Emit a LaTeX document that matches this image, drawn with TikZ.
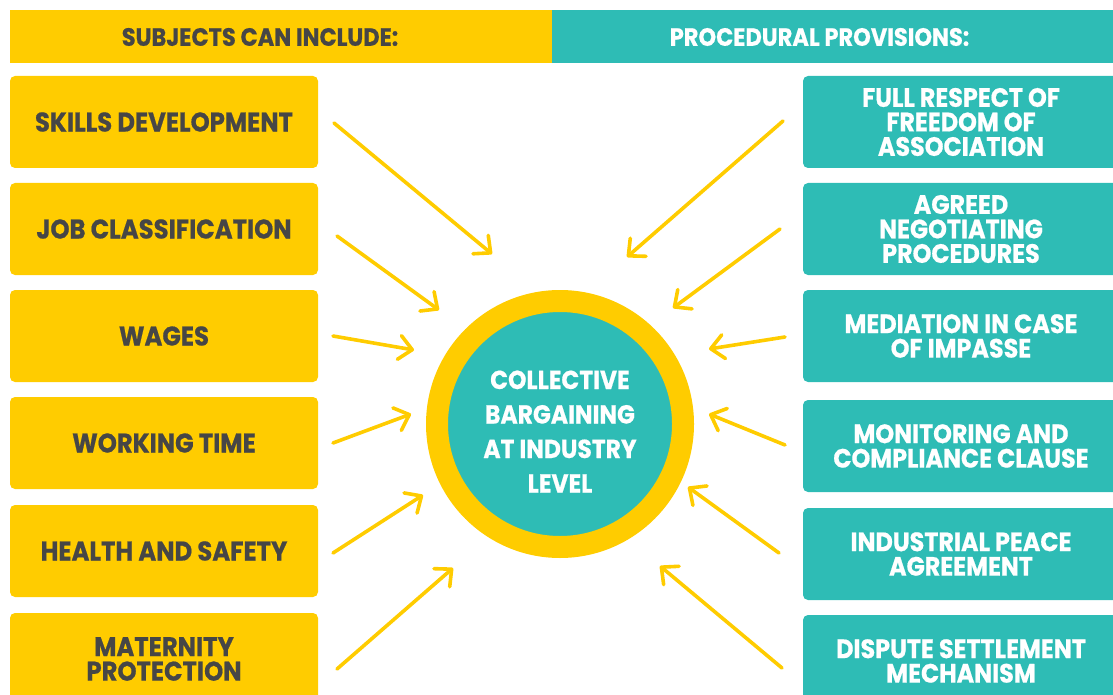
\documentclass[tikz,border=0pt]{standalone}
\usepackage{fontspec}
\setmainfont{Poppins}[FakeStretch=0.9,BoldFeatures={FakeBold=0.6}]
\usetikzlibrary{arrows.meta}
\definecolor{cbyellow}{RGB}{255,204,0}
\definecolor{cbteal}{RGB}{46,188,181}
\definecolor{cbgray}{RGB}{70,70,70}

\begin{document}
\begin{tikzpicture}[x=1pt,y=-1pt,
  subject/.style={fill=cbyellow,rounded corners=5pt,minimum width=308pt,minimum height=92pt,
    align=center,text=cbgray,font=\bfseries\fontsize{27}{24.5}\selectfont},
  provision/.style={fill=cbteal,rounded corners=5pt,minimum width=316pt,minimum height=92pt,
    align=center,text=white,font=\bfseries\fontsize{26.5}{24.5}\selectfont},
  heading/.style={minimum height=53pt,inner sep=0pt,font=\bfseries\fontsize{25}{25}\selectfont},
  arr/.style={cbyellow,line width=3.6pt,line cap=round,
    -{Straight Barb[length=13pt,width=24pt,line width=3.6pt,round]}}]
\useasboundingbox (0,0) rectangle (1113,695);
\clip (0,0) rectangle (1113,695);
\node[heading,fill=cbyellow,minimum width=542pt,text=cbgray] (hsub) at (281,37) {\hspace*{-42pt}SUBJECTS CAN INCLUDE:};
\node[heading,fill=cbteal,minimum width=565pt,text=white] (hproc) at (834.5,37) {\hspace*{-30pt}PROCEDURAL PROVISIONS:};
\node[subject] (skills) at (164,122) {SKILLS DEVELOPMENT};
\node[subject] (jobs) at (164,229) {JOB CLASSIFICATION};
\node[subject] (wages) at (164,336) {WAGES};
\node[subject] (time) at (164,443) {WORKING TIME};
\node[subject] (health) at (164,551) {HEALTH AND SAFETY};
\node[subject] (maternity) at (164,659) {MATERNITY\\PROTECTION};
\node[provision] (freedom) at (961,122) {FULL RESPECT OF\\FREEDOM OF\\ASSOCIATION};
\node[provision] (negot) at (961,229) {AGREED\\NEGOTIATING\\PROCEDURES};
\node[provision] (mediation) at (961,336) {MEDIATION IN CASE\\OF IMPASSE};
\node[provision] (monitor) at (961,446) {MONITORING AND\\COMPLIANCE CLAUSE};
\node[provision] (peace) at (961,554) {INDUSTRIAL PEACE\\AGREEMENT};
\node[provision] (dispute) at (961,661) {DISPUTE SETTLEMENT\\MECHANISM};
\node[circle,fill=cbteal,draw=cbyellow,line width=22pt,minimum size=246pt,inner sep=0pt,align=center,text=white,
  font=\bfseries\fontsize{26}{34.5}\selectfont] (cb) at (560,424) {\\[-1pt]COLLECTIVE\\BARGAINING\\AT INDUSTRY\\LEVEL};
\coordinate (s1) at (334,123); \coordinate (t1) at (492,254);
\coordinate (s2) at (337,236); \coordinate (t2) at (439,310);
\coordinate (s3) at (333,336); \coordinate (t3) at (414,350);
\coordinate (s4) at (333,443); \coordinate (t4) at (411,414);
\coordinate (s5) at (333,553); \coordinate (t5) at (423,495);
\coordinate (s6) at (337,669); \coordinate (t6) at (453,568);
\coordinate (s7) at (783,121); \coordinate (t7) at (627,257);
\coordinate (s8) at (780,229); \coordinate (t8) at (673,308);
\coordinate (s9) at (785,337); \coordinate (t9) at (709,349);
\coordinate (s10) at (785,445); \coordinate (t10) at (709,414);
\coordinate (s11) at (779,553); \coordinate (t11) at (688,487);
\coordinate (s12) at (782,668); \coordinate (t12) at (660,566);
\draw[arr] (s1) -- (t1);
\draw[arr] (s2) -- (t2);
\draw[arr] (s3) -- (t3);
\draw[arr] (s4) -- (t4);
\draw[arr] (s5) -- (t5);
\draw[arr] (s6) -- (t6);
\draw[arr] (s7) -- (t7);
\draw[arr] (s8) -- (t8);
\draw[arr] (s9) -- (t9);
\draw[arr] (s10) -- (t10);
\draw[arr] (s11) -- (t11);
\draw[arr] (s12) -- (t12);
\end{tikzpicture}
\end{document}
